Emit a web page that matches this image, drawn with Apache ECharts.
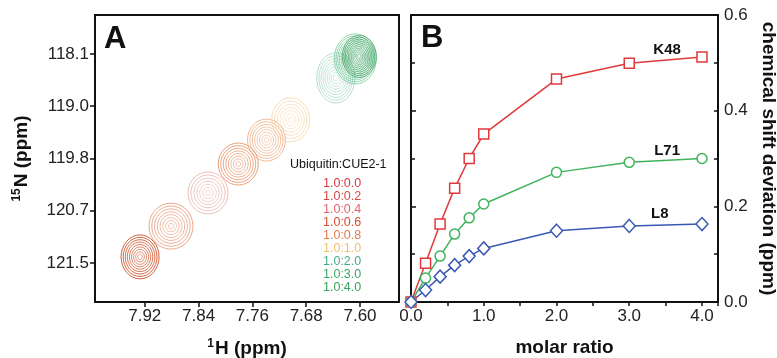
<!DOCTYPE html>
<html>
<head>
<meta charset="utf-8">
<script src="https://cdn.jsdelivr.net/npm/echarts@6/dist/echarts.min.js"></script>
<style>
  html, body { margin: 0; padding: 0; background: #fff; }
  #chart { width: 777px; height: 358px; }
</style>
</head>
<body>
<div id="chart"></div>
<script>
// titration points, Ubiquitin:CUE2-1
const ratioLabels = ['1.0:0.0', '1.0:0.2', '1.0:0.4', '1.0:0.6', '1.0:0.8', '1.0:1.0', '1.0:2.0', '1.0:3.0', '1.0:4.0']
const molarRatio = [0, 0.2, 0.4, 0.6, 0.8, 1.0, 2.0, 3.0, 4.0]

// panel A: peak centres (ppm)
const peakH = [7.927, 7.881, 7.826, 7.781, 7.739, 7.703, 7.636, 7.607, 7.601]
const peakN = [121.40, 120.90, 120.36, 119.89, 119.50, 119.17, 118.49, 118.18, 118.14]
const hTicks = [7.92, 7.84, 7.76, 7.68, 7.60]
const nTicks = [118.1, 118.95, 119.8, 120.65, 121.5]
const nTickLabels = ['118.1', '119.0', '119.8', '120.7', '121.5']

// panel B: chemical shift deviation (ppm)
const k48 = [0, 0.081, 0.163, 0.238, 0.300, 0.351, 0.466, 0.499, 0.512]
const l71 = [0, 0.050, 0.096, 0.142, 0.176, 0.205, 0.271, 0.292, 0.300]
const l8 = [0, 0.025, 0.053, 0.077, 0.096, 0.112, 0.149, 0.159, 0.163]

const FONT = '"Liberation Sans", Arial, Helvetica, sans-serif'

// contour look for each peak
const peakStyles = [
  { color: '#cf4c24', rx: 19, ry: 22, n: 9, w: 0.9 },
  { color: '#e58a60', rx: 22, ry: 23, n: 8, w: 0.75 },
  { color: '#e8aaa2', rx: 20, ry: 21, n: 7, w: 0.75 },
  { color: '#e2804f', rx: 20, ry: 21, n: 8, w: 0.75 },
  { color: '#eda373', rx: 19, ry: 21, n: 8, w: 0.75 },
  { color: '#f5d3a4', rx: 19, ry: 22, n: 7, w: 0.75 },
  { color: '#94cfb9', rx: 19, ry: 25, n: 9, w: 0.7 },
  { color: '#66c28d', rx: 21, ry: 25, n: 12, w: 0.7 },
  { color: '#3f9f60', rx: 17, ry: 21, n: 11, w: 0.75 },
]
const legendColors = ['#d8373f', '#da4540', '#e2646a', '#da4a30', '#e27c4a', '#f0c070', '#45aa8b', '#39a862', '#3aa35e']

const seriesColors = { K48: '#e0393b', L71: '#3fb35c', L8: '#3a58b4' }

function contourRenderer(idx) {
  const st = peakStyles[idx]
  return function (params, api) {
    const c = api.coord([api.value(0), api.value(1)])
    const children = []
    for (let k = 0; k < st.n; k++) {
      const f = 1 - 0.88 * k / (st.n - 1)
      children.push({
        type: 'ellipse',
        shape: { cx: c[0], cy: c[1], rx: st.rx * f, ry: st.ry * f },
        style: { fill: 'none', stroke: st.color, lineWidth: st.w, opacity: 0.55 + 0.45 * f },
      })
    }
    return { type: 'group', children }
  }
}

const axisText = { fontFamily: FONT, fontSize: 17, color: '#222' }
const nameText = { fontFamily: FONT, fontSize: 19, fontWeight: 'bold', color: '#111' }
const supText = { fontFamily: FONT, fontSize: 12, fontWeight: 'bold', color: '#111', verticalAlign: 'top', padding: [0, 1, 9, 0] }
const black = { color: '#111', width: 2 }
const thin = { color: '#111', width: 1.5 }

const chart = echarts.init(document.getElementById('chart'))

chart.setOption({
  animation: false,
  backgroundColor: '#fff',
  grid: [
    { left: 95, top: 15, width: 304, height: 287, outerBoundsMode: 'none', containLabel: false, show: true, borderColor: '#111', borderWidth: 2 },
    { left: 411, top: 15, width: 307, height: 287, outerBoundsMode: 'none', containLabel: false, show: true, borderColor: '#111', borderWidth: 2 },
  ],
  xAxis: [
    {
      gridIndex: 0, type: 'value', inverse: true, min: 7.542, max: 7.994,
      name: '{s|1}H (ppm)', nameLocation: 'middle', nameGap: 36,
      nameTextStyle: { ...nameText, rich: { s: supText } },
      axisLine: { lineStyle: black },
      axisTick: { length: 5, lineStyle: thin, customValues: hTicks },
      axisLabel: { ...axisText, margin: 6, customValues: hTicks, formatter: (v) => v.toFixed(2) },
      splitLine: { show: false },
    },
    {
      gridIndex: 1, type: 'value', min: 0, max: 4.22, interval: 0.5,
      name: 'molar ratio', nameLocation: 'middle', nameGap: 36, nameTextStyle: nameText,
      axisLine: { lineStyle: black },
      axisTick: { length: 4, lineStyle: thin },
      axisLabel: { ...axisText, margin: 6, showMaxLabel: false, formatter: (v) => (Math.abs(v - Math.round(v)) < 1e-6 ? v.toFixed(1) : '') },
      splitLine: { show: false },
    },
    {
      gridIndex: 1, type: 'value', position: 'top', min: 0, max: 4.22, interval: 0.5,
      axisLine: { lineStyle: black },
      axisTick: { inside: true, length: 4, lineStyle: thin },
      axisLabel: { show: false },
      splitLine: { show: false },
    },
  ],
  yAxis: [
    {
      gridIndex: 0, type: 'value', inverse: true, min: 117.466, max: 122.134,
      name: '{s|15}N (ppm)', nameLocation: 'middle', nameGap: 63,
      nameTextStyle: { ...nameText, rich: { s: supText } },
      axisLine: { lineStyle: black },
      axisTick: { length: 5, lineStyle: thin, customValues: nTicks },
      axisLabel: {
        ...axisText, margin: 6, customValues: nTicks,
        formatter: (v) => {
          const i = nTicks.findIndex((t) => Math.abs(t - v) < 1e-6)
          return i >= 0 ? nTickLabels[i] : ''
        },
      },
      splitLine: { show: false },
    },
    {
      gridIndex: 1, type: 'value', position: 'right', min: 0, max: 0.6, interval: 0.2,
      name: 'chemical shift deviation (ppm)', nameLocation: 'middle', nameRotate: -90, nameGap: 41,
      nameTextStyle: nameText,
      axisLine: { lineStyle: black },
      axisTick: { length: 5, lineStyle: thin },
      axisLabel: { ...axisText, margin: 6, formatter: (v) => v.toFixed(1) },
      splitLine: { show: false },
    },
    {
      gridIndex: 1, type: 'value', position: 'left', min: 0, max: 0.6, interval: 0.1,
      axisLine: { lineStyle: black },
      axisTick: { inside: true, length: 4, lineStyle: thin },
      axisLabel: { show: false },
      splitLine: { show: false },
    },
    {
      gridIndex: 1, type: 'value', position: 'right', min: 0, max: 0.6, interval: 0.1,
      axisLine: { show: false },
      axisTick: { inside: true, length: 4, lineStyle: thin },
      axisLabel: { show: false },
      splitLine: { show: false },
    },
  ],
  legend: {
    orient: 'vertical', left: 313, top: 172, itemGap: 0, itemWidth: 0, itemHeight: 0,
    selectedMode: false, icon: 'rect',
    itemStyle: { opacity: 0 },
    textStyle: { fontFamily: FONT, fontSize: 12.5, lineHeight: 12.8, padding: 0 },
    data: ratioLabels.map((name, i) => ({ name, textStyle: { color: legendColors[i] } })),
  },
  graphic: [
    { type: 'text', left: 104, top: 24, style: { text: 'A', font: 'bold 31px ' + FONT, fill: '#111' } },
    { type: 'text', left: 421, top: 23, style: { text: 'B', font: 'bold 31px ' + FONT, fill: '#111' } },
    { type: 'text', left: 290, top: 158, style: { text: 'Ubiquitin:CUE2-1', font: '12.5px ' + FONT, fill: '#111' } },
  ],
  series: [
    ...ratioLabels.map((name, i) => ({
      name,
      type: 'custom',
      xAxisIndex: 0,
      yAxisIndex: 0,
      clip: true,
      renderItem: contourRenderer(i),
      data: [[peakH[i], peakN[i]]],
    })),
    ...[['K48', k48, 'rect', 10, [3.52, 0.527]], ['L71', l71, 'circle', 10, [3.52, 0.316]], ['L8', l8, 'diamond', [12, 13], [3.42, 0.184]]].map(([name, vals, symbol, size, labelAt]) => ({
      name,
      type: 'line',
      xAxisIndex: 1,
      yAxisIndex: 1,
      clip: false,
      symbol,
      symbolSize: size,
      showAllSymbol: true,
      lineStyle: { color: seriesColors[name], width: 1.5 },
      itemStyle: { color: '#fff', borderColor: seriesColors[name], borderWidth: 1.5 },
      data: molarRatio.map((x, i) => [x, vals[i]]),
      markPoint: {
        symbol: 'rect',
        symbolSize: 2,
        itemStyle: { color: 'rgba(0,0,0,0)', borderWidth: 0 },
        label: { show: true, position: 'inside', formatter: name, fontFamily: FONT, fontSize: 15, fontWeight: 'bold', color: '#111' },
        data: [{ coord: labelAt }],
      },
    })),
  ],
})
</script>
</body>
</html>
